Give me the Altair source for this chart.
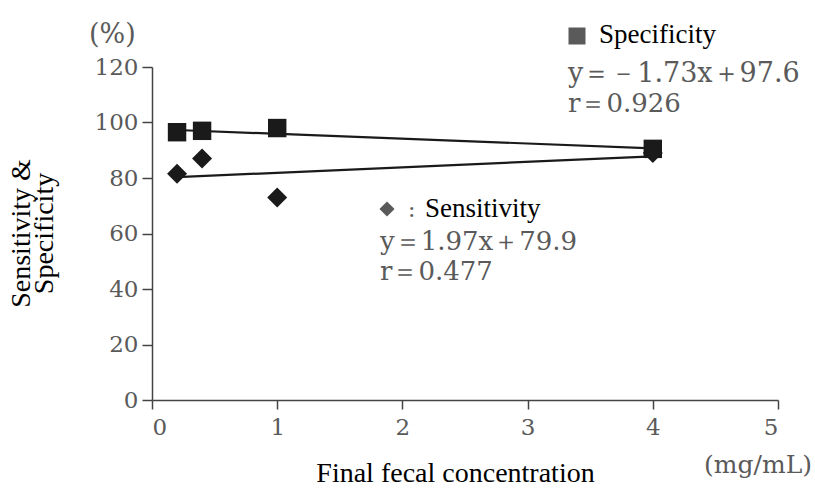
import altair as alt
import pandas as pd

# ---- data ----
conc = [0.2, 0.4, 1, 4]
specificity = [96.5, 97, 98, 90.5]
sensitivity = [81.5, 87, 73, 89]

fit_x = [0.2, 4]
spec_fit = [97.3, 90.7]
sens_fit = [80.3, 87.8]

x_ticks = [0, 1, 2, 3, 4, 5]
y_ticks = [0, 20, 40, 60, 80, 100, 120]

pts = pd.DataFrame({"conc": conc, "Specificity": specificity, "Sensitivity": sensitivity})
fits = pd.DataFrame({"conc": fit_x, "spec": spec_fit, "sens": sens_fit})

INK = "#1a1a1a"
GREY = "#5a5a5a"
SERIF_NUM = "DejaVu Serif"
SERIF_TXT = "Liberation Serif"

xs = alt.Scale(domain=[0, 5], nice=False)
ys = alt.Scale(domain=[0, 120], nice=False)

x_axis = alt.Axis(
    values=x_ticks, format="d", title="Final fecal concentration", grid=False,
    labelFont=SERIF_NUM, labelFontSize=23, labelColor=GREY, labelPadding=7,
    tickSize=9, tickColor="#444", domainColor="#444", tickWidth=1.5, domainWidth=1.5,
    titleFont=SERIF_TXT, titleFontSize=28, titleFontWeight="normal", titleColor="black",
    titleX=303, titleY=81, titleBaseline="alphabetic", titleAnchor="middle", titleAlign="center",
)
y_axis = alt.Axis(
    values=y_ticks, title=["Sensitivity &", "Specificity"], grid=False,
    labelFont=SERIF_NUM, labelFontSize=23, labelColor=GREY, labelPadding=4,
    tickSize=10, tickColor="#444", domainColor="#444", tickWidth=1.5, domainWidth=1.5,
    titleFont=SERIF_TXT, titleFontSize=28, titleFontWeight="normal", titleColor="black",
    titleX=-145, titleY=166, titleAngle=-90, titleBaseline="top", titleAlign="center",
    titleLineHeight=23,
)

base = alt.Chart(pts)

spec_pts = base.mark_point(shape="square", filled=True, size=340, color=INK, opacity=1).encode(
    x=alt.X("conc:Q", scale=xs, axis=x_axis),
    y=alt.Y("Specificity:Q", scale=ys, axis=y_axis),
)
sens_pts = base.mark_point(shape="diamond", filled=True, size=400, color=INK, opacity=1).encode(
    x=alt.X("conc:Q", scale=xs),
    y=alt.Y("Sensitivity:Q", scale=ys),
)
spec_line = alt.Chart(fits).mark_line(color=INK, strokeWidth=2.2).encode(
    x=alt.X("conc:Q", scale=xs), y=alt.Y("spec:Q", scale=ys)
)
sens_line = alt.Chart(fits).mark_line(color=INK, strokeWidth=2.2).encode(
    x=alt.X("conc:Q", scale=xs), y=alt.Y("sens:Q", scale=ys)
)

one = pd.DataFrame({"k": [0]})


def txt(text, x, y, font, size, color, align="left"):
    return alt.Chart(one).mark_text(
        text=text, font=font, fontSize=size, color=color, align=align, baseline="alphabetic"
    ).encode(x=alt.value(x), y=alt.value(y))


def sym(shape, x, y, size):
    return alt.Chart(one).mark_point(
        shape=shape, filled=True, size=size, color=GREY, opacity=1
    ).encode(x=alt.value(x), y=alt.value(y))


annos = [
    txt("(%)", -63, -24, SERIF_NUM, 27, GREY),
    txt("(mg/mL)", 660, 406, SERIF_NUM, 25, GREY, align="right"),
    sym("square", 425, -31, 289),
    txt("Specificity", 447, -24, SERIF_TXT, 27, "black"),
    txt("y＝－1.73x＋97.6", 416, 15, SERIF_NUM, 27, GREY),
    txt("r＝0.926", 416, 45, SERIF_NUM, 26, GREY),
    sym("diamond", 235, 142, 230),
    txt(":", 256, 150, SERIF_NUM, 22, GREY),
    txt("Sensitivity", 273, 150, SERIF_TXT, 27, "black"),
    txt("y＝1.97x＋79.9", 228, 183, SERIF_NUM, 26, GREY),
    txt("r＝0.477", 228, 213, SERIF_NUM, 26, GREY),
]

chart = alt.layer(spec_line, sens_line, spec_pts, sens_pts, *annos).properties(
    width=626, height=333,
    autosize=alt.AutoSizeParams(type="none"),
    padding={"left": 152, "top": 67, "right": 37, "bottom": 88},
    background="white",
).configure_view(stroke=None)

chart.save("out.html", embed_options={"renderer": "svg", "actions": False})
